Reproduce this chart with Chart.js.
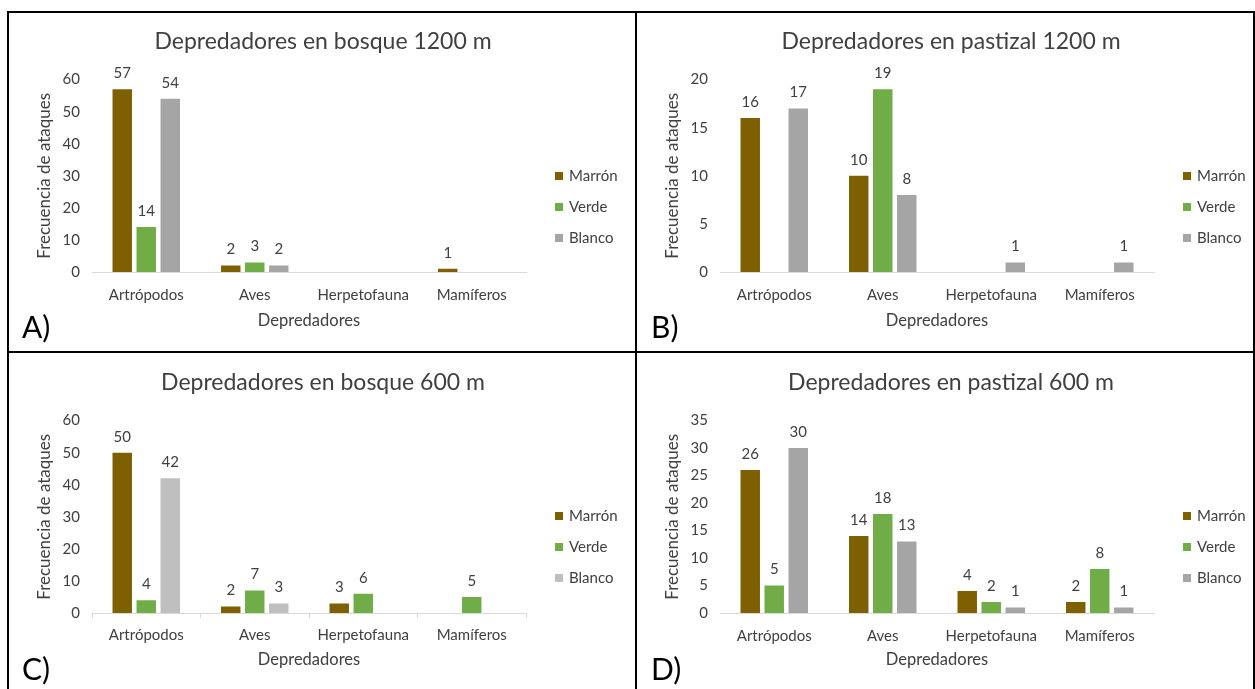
<!DOCTYPE html>
<html lang="es">
<head>
<meta charset="utf-8">
<title>Depredadores</title>
<script src="https://cdn.jsdelivr.net/npm/chart.js@4"></script>
<style>
    body { margin: 0; background: #fff; overflow: hidden; width: 1255px; height: 689px; position: relative; font-family: Lato, sans-serif; }
    canvas { position: absolute; }
    .marco { position: absolute; left: 7px; top: 11px; width: 1244px; height: 700px; border: 2px solid #000; }
    .linea-v { position: absolute; left: 635px; top: 11px; width: 2px; height: 700px; background: #000; }
    .linea-h { position: absolute; left: 7px; top: 351px; width: 1250px; height: 2px; background: #000; }
    .letra { position: absolute; font-size: 30px; color: #000; line-height: 1; }
</style>
</head>
<body>
<div class="marco"></div>
<div class="linea-v"></div>
<div class="linea-h"></div>

<canvas id="bosque1200Chart" width="630" height="340" style="left:8px; top:12px;"></canvas>
<canvas id="pastizal1200Chart" width="630" height="340" style="left:636px; top:12px;"></canvas>
<canvas id="bosque600Chart" width="630" height="341" style="left:8px; top:352px;"></canvas>
<canvas id="pastizal600Chart" width="630" height="341" style="left:636px; top:352px;"></canvas>

<div class="letra" style="left:22px; top:311px;">A)</div>
<div class="letra" style="left:651px; top:311px;">B)</div>
<div class="letra" style="left:22px; top:653px;">C)</div>
<div class="letra" style="left:651px; top:653px;">D)</div>

<script>
// Categorías y series
const categorias = ['Artrópodos', 'Aves', 'Herpetofauna', 'Mamíferos'];
const series = ['Marrón', 'Verde', 'Blanco'];

// A) bosque 1200 m
const bosque1200Marron = [57, 2, null, 1];
const bosque1200Verde = [14, 3, null, null];
const bosque1200Blanco = [54, 2, null, null];

// B) pastizal 1200 m
const pastizal1200Marron = [16, 10, null, null];
const pastizal1200Verde = [null, 19, null, null];
const pastizal1200Blanco = [17, 8, 1, 1];

// C) bosque 600 m
const bosque600Marron = [50, 2, 3, null];
const bosque600Verde = [4, 7, 6, 5];
const bosque600Blanco = [42, 3, null, null];

// D) pastizal 600 m
const pastizal600Marron = [26, 14, 4, 2];
const pastizal600Verde = [5, 18, 2, 8];
const pastizal600Blanco = [30, 13, 1, 1];

// Escalas del eje Y
const maxBosque1200 = 60, pasoBosque1200 = 10;
const maxPastizal1200 = 20, pasoPastizal1200 = 5;
const maxBosque600 = 60, pasoBosque600 = 10;
const maxPastizal600 = 35, pasoPastizal600 = 5;

Chart.defaults.font.family = 'Lato, sans-serif';
Chart.defaults.color = '#404040';

const colorMarron = '#7F6000';
const colorVerde = '#70AD47';
const colorBlanco = '#A5A5A5';
const colorBlancoClaro = '#BFBFBF';

// Etiquetas con el valor encima de cada barra
const etiquetasValores = {
    id: 'etiquetasValores',
    afterDatasetsDraw(chart) {
        const ctx = chart.ctx;
        ctx.save();
        ctx.font = '15px Lato, sans-serif';
        ctx.fillStyle = '#404040';
        ctx.textAlign = 'center';
        ctx.textBaseline = 'middle';
        chart.data.datasets.forEach((ds, i) => {
            chart.getDatasetMeta(i).data.forEach((barra, j) => {
                const valor = ds.data[j];
                if (valor === null) return;
                ctx.fillText(valor, barra.x, barra.y - 16);
            });
        });
        ctx.restore();
    }
};

// Leyenda a la derecha (cuadrito + texto)
const leyendaDerecha = {
    id: 'leyendaDerecha',
    afterDraw(chart) {
        const ctx = chart.ctx;
        const x = chart.chartArea.right + 29;
        ctx.save();
        ctx.font = '15px Lato, sans-serif';
        ctx.textBaseline = 'middle';
        chart.data.datasets.forEach((ds, i) => {
            const y = 164 + i * 31;
            ctx.fillStyle = ds.backgroundColor;
            ctx.fillRect(x, y - 4, 8, 8);
            ctx.fillStyle = '#404040';
            ctx.fillText(ds.label, x + 14, y);
        });
        ctx.restore();
    }
};

function crearGrafico(id, titulo, marron, verde, blanco, maxY, paso, opciones) {
    const ctx = document.getElementById(id).getContext('2d');
    return new Chart(ctx, {
        type: 'bar',
        data: {
            labels: categorias,
            datasets: [
                { label: series[0], data: marron, backgroundColor: colorMarron },
                { label: series[1], data: verde, backgroundColor: colorVerde },
                { label: series[2], data: blanco, backgroundColor: opciones.colorBlanco }
            ]
        },
        options: {
            responsive: false,
            animation: false,
            datasets: {
                bar: { categoryPercentage: 0.664, barPercentage: 0.81 }
            },
            layout: { padding: 0 },
            plugins: {
                legend: { display: false },
                tooltip: { enabled: false },
                title: {
                    display: true,
                    text: titulo,
                    color: '#404040',
                    font: { size: 23, weight: 'normal' },
                    padding: { top: opciones.tituloArriba, bottom: 24 }
                }
            },
            scales: {
                x: {
                    afterFit: (escala) => { escala.height = 80; },
                    grid: {
                        display: opciones.marcas,
                        drawOnChartArea: false,
                        drawTicks: opciones.marcas,
                        tickLength: 5,
                        color: '#D9D9D9'
                    },
                    border: { display: true, color: '#D9D9D9', width: 1 },
                    ticks: { font: { size: 15 }, color: '#404040', padding: opciones.marcas ? 8 : 14 },
                    title: {
                        display: true,
                        text: 'Depredadores',
                        color: '#404040',
                        font: { size: 16.5 },
                        padding: { top: 0, bottom: opciones.tituloXAbajo }
                    }
                },
                y: {
                    min: 0,
                    max: maxY,
                    afterFit: (escala) => { escala.width = 84; },
                    grid: { display: false, drawTicks: false },
                    border: { display: false },
                    ticks: { stepSize: paso, font: { size: 15 }, color: '#404040', padding: 12 },
                    title: {
                        display: true,
                        text: 'Frecuencia de ataques',
                        color: '#404040',
                        font: { size: 17 },
                        padding: { top: 26, bottom: 0 }
                    }
                },
                // espacio reservado a la derecha para la leyenda
                yLeyenda: {
                    type: 'linear',
                    position: 'right',
                    afterFit: (escala) => { escala.width = 112; },
                    grid: { display: false, drawTicks: false },
                    border: { display: false },
                    ticks: { display: false }
                }
            }
        },
        plugins: [etiquetasValores, leyendaDerecha]
    });
}

// Gráfico A
const bosque1200Chart = crearGrafico('bosque1200Chart', 'Depredadores en bosque 1200 m',
    bosque1200Marron, bosque1200Verde, bosque1200Blanco, maxBosque1200, pasoBosque1200,
    { colorBlanco: colorBlanco, marcas: false, tituloArriba: 16, tituloXAbajo: 21 });

// Gráfico B
const pastizal1200Chart = crearGrafico('pastizal1200Chart', 'Depredadores en pastizal 1200 m',
    pastizal1200Marron, pastizal1200Verde, pastizal1200Blanco, maxPastizal1200, pasoPastizal1200,
    { colorBlanco: colorBlanco, marcas: false, tituloArriba: 16, tituloXAbajo: 21 });

// Gráfico C
const bosque600Chart = crearGrafico('bosque600Chart', 'Depredadores en bosque 600 m',
    bosque600Marron, bosque600Verde, bosque600Blanco, maxBosque600, pasoBosque600,
    { colorBlanco: colorBlancoClaro, marcas: true, tituloArriba: 17, tituloXAbajo: 23 });

// Gráfico D
const pastizal600Chart = crearGrafico('pastizal600Chart', 'Depredadores en pastizal 600 m',
    pastizal600Marron, pastizal600Verde, pastizal600Blanco, maxPastizal600, pasoPastizal600,
    { colorBlanco: colorBlanco, marcas: false, tituloArriba: 17, tituloXAbajo: 23 });
</script>
</body>
</html>
